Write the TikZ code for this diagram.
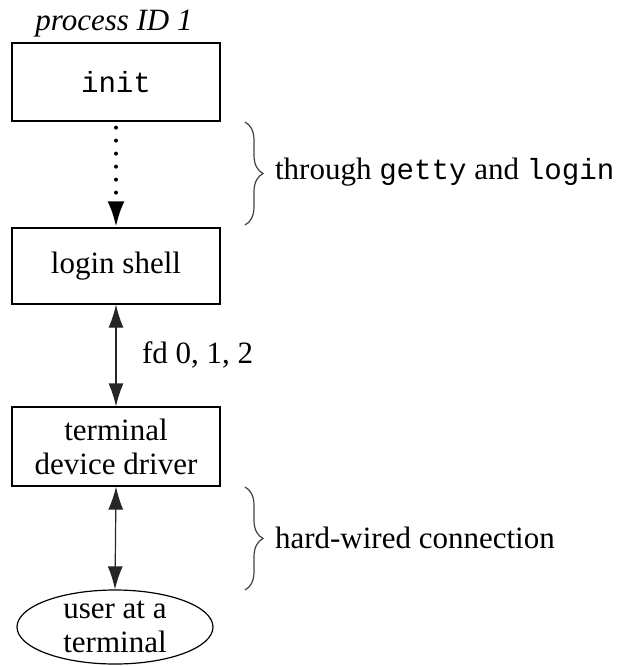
\documentclass[tikz,border=0pt]{standalone}
\usepackage{fontspec}
\setmainfont{Liberation Serif}
\setmonofont[Scale=0.94]{Liberation Mono}
\usepackage{tikz}
\usetikzlibrary{arrows.meta}
\usetikzlibrary{shapes.geometric}
\usetikzlibrary{decorations.pathreplacing}

\begin{document}
\begin{tikzpicture}[x=0.5pt, y=-0.5pt]

\newcommand\boxw{104pt}
\tikzset{procbox/.style={rectangle, draw=black, line width=0.6pt, minimum width=\boxw, align=center, font=\fontsize{15.5}{17}\selectfont},
         txt/.style={font=\fontsize{15.5}{17}\selectfont},
         tip/.style={-{Latex[length=13pt,width=8.5pt]}},
         twotip/.style={{Latex[length=11.5pt,width=7.5pt]}-{Latex[length=11.5pt,width=7.5pt]}},
         brc/.style={decorate, decoration={brace, amplitude=9pt}, line width=0.6pt, black!75}}

\useasboundingbox (0,0) rectangle (626,666);

\node at (114,24) [txt, font=\fontsize{15.5}{17}\selectfont\itshape] (pid) {process ID 1};

\node at (116,82) [procbox, minimum height=39pt] (init) {\texttt{init}};
\node at (116,266) [procbox, minimum height=38pt] (login) {login shell};
\node at (116,446.5) [procbox, minimum height=39.5pt] (tdd) {terminal\\device driver};
\node at (115,627) [ellipse, draw=black, line width=0.6pt, minimum width=98pt, minimum height=37pt, inner sep=0pt, align=center, txt] (user) {user at a\\terminal};

% dotted: several steps through other programs
\draw[line width=2pt, line cap=round, dash pattern=on 0pt off 6.5pt, tip] ([yshift=-3pt]init.south) -- (login.north);
\draw[twotip, line width=0.6pt, black!85] (login.south) -- (tdd.north);
\draw[twotip, line width=0.6pt, black!85] (tdd.south) -- (user.north);

\node at (135,355) [txt, anchor=west] (fd) {fd 0, 1, 2};

\draw[brc] (245,122) -- (245,225);
\node at (268,172) [txt, anchor=west] (getty) {through \texttt{getty} and \texttt{login}};

\draw[brc] (245,487) -- (245,590);
\node at (268,538) [txt, anchor=west] (hw) {hard-wired connection};

\end{tikzpicture}
\end{document}
